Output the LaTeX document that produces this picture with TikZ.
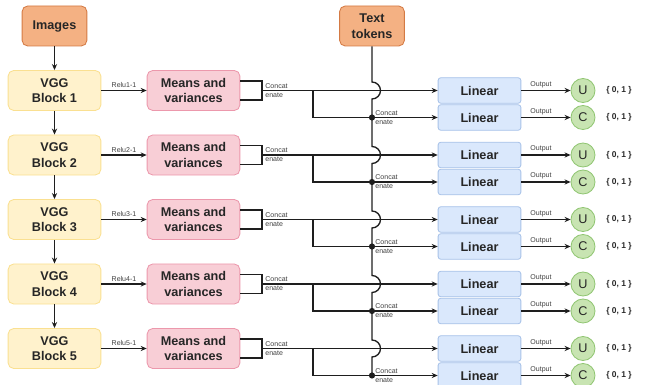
\documentclass[tikz,border=0pt]{standalone}
\usepackage{fontspec}
\setmainfont{Liberation Sans}
\usepackage{tikz}
\usetikzlibrary{arrows.meta, positioning, calc}
\definecolor{inputorange}{RGB}{244,177,131}
\definecolor{inputline}{RGB}{212,122,68}
\definecolor{vggyellow}{RGB}{255,242,204}
\definecolor{vggline}{RGB}{250,224,145}
\definecolor{statpink}{RGB}{248,206,214}
\definecolor{statline}{RGB}{236,152,172}
\definecolor{linblue}{RGB}{218,232,252}
\definecolor{linline}{RGB}{168,194,232}
\definecolor{outgreen}{RGB}{200,228,178}
\definecolor{outgreenline}{RGB}{145,198,115}
\definecolor{wire}{RGB}{30,30,30}

\begin{document}
\begin{tikzpicture}[x=0.025cm, y=-0.025cm,
  io/.style={rectangle, draw=inputline, fill=inputorange, rounded corners=4pt, line width=0.6pt,
             minimum width=1.62cm, minimum height=1cm, text=black!85,
             font=\fontsize{9}{11}\selectfont\bfseries, align=center},
  vgg/.style={io, draw=vggline, fill=vggyellow, minimum width=2.32cm},
  stat/.style={io, draw=statline, fill=statpink, minimum width=2.32cm},
  lin/.style={io, draw=linline, fill=linblue, rounded corners=2pt, minimum width=2.07cm, minimum height=0.64cm},
  outc/.style={circle, draw=outgreenline, fill=outgreen, line width=0.6pt, minimum size=0.6cm, inner sep=0pt,
              text=black!85, font=\fontsize{9}{11}\selectfont},
  bits/.style={font=\fontsize{6}{7}\selectfont\bfseries, text=black!85},
  small/.style={font=\fontsize{5}{6.4}\selectfont, text=black!75, inner sep=1.5pt},
  ln/.style={line width=0.95pt, wire},
  arr/.style={-{Stealth[length=1.5mm, width=1.3mm]}, line width=0.95pt, wire},
]
  \useasboundingbox (0,0) rectangle (645,385);

  \node[io] (img) at (54.5,26) {Images};
  \node[io] (tt) at (372,26) {Text\\tokens};
  \coordinate (d0) at (tt.south);

  \foreach \i in {1,...,5} {
    \pgfmathsetmacro{\rowy}{90.5+64.5*(\i-1)}
    \pgfmathsetmacro{\rowc}{\rowy+27}
    \pgfmathtruncatemacro{\p}{\i-1}

    \node[vgg] (v\i) at (54.5,\rowy) {VGG\\Block \i};
    \node[stat] (m\i) at (193.5,\rowy) {Means and\\variances};
    \node[lin] (lu\i) at (479.5,\rowy) {Linear};
    \node[lin] (lc\i) at (479.5,\rowc) {Linear};
    \node[outc] (u\i) at (583,\rowy) {U};
    \node[outc] (c\i) at (583,\rowc) {C};
    \node[bits] (bu\i) at (619,\rowy) {\{ 0, 1 \}};
    \node[bits] (bc\i) at (619,\rowc) {\{ 0, 1 \}};

    \coordinate (j\i) at (262,\rowy);
    \coordinate (b\i) at (313,\rowy);
    \coordinate (d\i) at (372,\rowc);

    \ifnum\i=1
      \draw[arr] (img) -- (v1);
    \else
      \draw[arr] (v\p) -- (v\i);
    \fi
    \draw[arr] (v\i) -- node[above, small] {Relu\i-1} (m\i);

    % concatenate the two statistics
    \draw[ln] ($(m\i.east)+(0,-9.5)$) -| ($(j\i)+(0,9.5)$) -- ($(m\i.east)+(0,9.5)$);
    \node[small, anchor=west, align=left] (cj\i) at ($(j\i)+(1,0)$) {Concat\\enate};
    \draw[arr] (j\i) -- (lu\i);
    \draw[arr] (b\i) |- (lc\i);

    % text tokens line, hopping over the first wire
    \draw[ln] (d\p) -- (372,\rowy-8.5) arc[start angle=90, end angle=-90, radius=0.2125cm] -- (d\i);
    \fill[wire] (d\i) circle[radius=2.2pt];
    \node[small, anchor=west, align=left] (ct\i) at ($(d\i)+(1,0)$) {Concat\\enate};

    \draw[arr] (lu\i) -- node[above, small, pos=0.4] {Output} (u\i);
    \draw[arr] (lc\i) -- node[above, small, pos=0.4] {Output} (c\i);
  }
\end{tikzpicture}
\end{document}
